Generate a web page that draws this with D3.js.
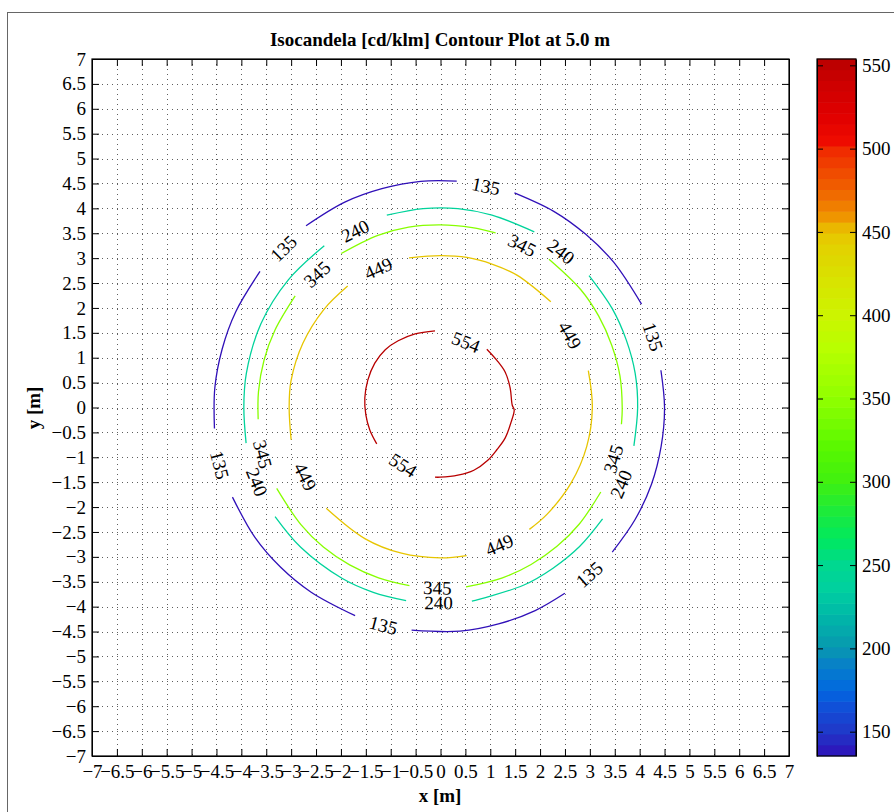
<!DOCTYPE html>
<html><head><meta charset="utf-8">
<script src="https://cdn.jsdelivr.net/npm/d3@7"></script>
<style>
body{margin:0;background:#fff}
svg{display:block}
text{font-family:"Liberation Serif","Times New Roman",serif;fill:#000}
</style>
</head><body><svg id="c" width="894" height="812"></svg>
<script>
// ---------- data ----------
const axisTicks = [-7,-6.5,-6,-5.5,-5,-4.5,-4,-3.5,-3,-2.5,-2,-1.5,-1,-0.5,0,0.5,1,1.5,2,2.5,3,3.5,4,4.5,5,5.5,6,6.5,7];
const cbarTicks = [150,200,250,300,350,400,450,500,550];
const cbarRange = [135.4, 553.8];
const levels = [135, 240, 345, 449, 554];

// colormap stops (value -> colour)
const cmapValues = [135.4,150,165,175,190,200,220,235,250,265,280,300,320,350,380,400,420,440,450,460,470,480,490,500,505,520,540,553.8];
const cmapColors = ["#3010b8","#2038c8","#1050d8","#0068e0","#0880c8","#0898b0","#00b8a8","#00d0a0","#00d890","#00e860","#18ea40","#40f010","#58f800","#90ff00","#b8ff00","#ccf400","#d8e400","#e2d200","#e8c400","#f09000","#f07000","#f05800","#f04000","#f02800","#ee0a00","#e00000","#cc0000","#b80000"];

// contour segments: points as [angle deg (from +x, ccw), radius m]
const seg135 = [
  [[126.5,4.54],[115,4.55],[105,4.55],[95,4.56],[85.9,4.56]],
  [[71.0,4.56],[60,4.55],[50,4.54],[40,4.54],[27.2,4.54]],
  [[9.6,4.49],[0,4.50],[-10,4.50],[-20,4.51],[-30,4.51],[-40.1,4.51]],
  [[-56.2,4.49],[-65,4.50],[-75,4.50],[-85,4.51],[-97.4,4.51]],
  [[-112.3,4.52],[-125,4.53],[-135,4.54],[-145,4.55],[-156.7,4.55]],
  [[185.3,4.56],[175,4.55],[165,4.54],[155,4.54],[143.0,4.54]]
];
const seg240 = [
  [[105.6,4.01],[95,4.01],[85,4.01],[75,4.0],[61.9,4.0]],
  [[125.7,4.0],[140,3.99],[155,3.98],[170,3.96],[180,3.95],[190.4,3.97]],
  [[41.6,3.99],[30,3.98],[20,3.97],[10,3.97],[0,3.96],[-11.2,3.96]],
  [[-34.5,3.95],[-45,3.95],[-55,3.94],[-65,3.94],[-80.8,3.94]],
  [[-100.1,3.94],[-110,3.95],[-120,3.96],[-135,3.97],[-146.6,3.98]]
];
const seg345 = [
  [[122.8,3.68],[110,3.68],[100,3.68],[90,3.67],[80,3.67],[72.5,3.68]],
  [[142.5,3.68],[155,3.67],[165,3.67],[175,3.67],[183.7,3.67]],
  [[53.8,3.69],[40,3.68],[30,3.67],[20,3.66],[10,3.66],[0,3.65],[-5.3,3.65]],
  [[-27.8,3.64],[-40,3.64],[-50,3.64],[-60,3.64],[-70,3.64],[-81.9,3.64]],
  [[-99.9,3.63],[-110,3.64],[-120,3.65],[-130,3.66],[-140,3.66],[-153.7,3.67]]
];
const seg449 = [
  [[101.9,3.07],[90,3.05],[80,3.06],[70,3.06],[60,3.07],[43.8,3.07]],
  [[127.4,3.07],[140,3.06],[155,3.05],[170,3.05],[180,3.04],[192.2,3.07]],
  [[14,3.06],[0,3.05],[-15,3.04],[-30,3.03],[-45,3.03],[-53.9,3.03]],
  [[-80,3.02],[-90,3.02],[-105,3.03],[-120,3.04],[-138.6,3.06]]
];
const seg554 = [
  [[94.1,1.544],[109.0,1.565],[122.4,1.587],[133.7,1.606],[146.0,1.592],[159.4,1.560],[172.9,1.532],[185.7,1.507],[197.6,1.490],[209.7,1.474]],
  [[51.5,1.495],[40.1,1.476],[28.6,1.481],[15.6,1.453],[2.0,1.441],[-1.9,1.481],[-11.5,1.449],[-25.1,1.436],[-36.9,1.414],[-48.1,1.423],[-62.0,1.427],[-75.6,1.404],[-90.4,1.400],[-94.5,1.404]]
];
const contourSegs = [seg135, seg240, seg345, seg449, seg554];

// inline labels: [angle deg, radius m]
const lab135 = [[78.4,4.54],[18.4,4.50],[-48.3,4.49],[-104.7,4.52],[-165.4,4.58],[134.6,4.49]];
const lab240 = [[115.8,3.94],[52.3,3.96],[-23,3.94],[-90.6,3.92],[-157.9,3.98]];
const lab345 = [[132.8,3.65],[63.3,3.65],[-16.6,3.62],[-91.0,3.62],[-165.3,3.69]];
const lab449 = [[114.1,3.06],[29.2,2.98],[-66.8,3.00],[-152.9,3.05]];
const lab554 = [[68.7,1.41],[-122.9,1.38]];
const contourLabels = [lab135, lab240, lab345, lab449, lab554];

// ---------- drawing ----------
const svg = d3.select("#c");
svg.append("rect").attr("width",894).attr("height",812).attr("fill","#fff");
svg.append("rect").attr("x",7.5).attr("y",12.5).attr("width",1000).attr("height",1000)
   .attr("fill","none").attr("stroke","#666").attr("stroke-width",1);

const M = {l:92, r:789, t:59, b:756};
const x = d3.scaleLinear([-7,7],[M.l,M.r]);
const y = d3.scaleLinear([-7,7],[M.b,M.t]);
const cmap = d3.scaleLinear(cmapValues, cmapColors).clamp(true);
const rad = Math.PI/180;

// grid
const inner = axisTicks.filter(v => Math.abs(v) < 7);
const grid = svg.append("g").attr("stroke","#444").attr("stroke-width",1).attr("stroke-dasharray","1 4").attr("opacity",0.85);
grid.selectAll(".gx").data(inner).join("line")
  .attr("x1",d=>Math.round(x(d))+0.5).attr("x2",d=>Math.round(x(d))+0.5).attr("y1",M.t).attr("y2",M.b);
grid.selectAll(".gy").data(inner).join("line")
  .attr("y1",d=>Math.round(y(d))+0.5).attr("y2",d=>Math.round(y(d))+0.5).attr("x1",M.l).attr("x2",M.r);

// contours
const line = d3.line()
  .x(d => x(d[1]*Math.cos(d[0]*rad)))
  .y(d => y(d[1]*Math.sin(d[0]*rad)))
  .curve(d3.curveCatmullRom);
const cg = svg.append("g").attr("fill","none").attr("stroke-width",1.3);
contourSegs.forEach((segs,i) => {
  cg.selectAll(null).data(segs).join("path")
    .attr("d", line).attr("stroke", cmap(levels[i]));
});

// contour labels
const lg = svg.append("g");
contourLabels.forEach((labs,i) => {
  lg.selectAll(null).data(labs).join("text")
    .attr("transform", d => {
      let rot = 90 - d[0];
      while (rot > 90) rot -= 180;
      while (rot <= -90) rot += 180;
      return `translate(${x(d[1]*Math.cos(d[0]*rad))},${y(d[1]*Math.sin(d[0]*rad))}) rotate(${rot})`;
    })
    .attr("text-anchor","middle").attr("dy","0.35em")
    .attr("font-size",19).text(levels[i]);
});

// axes
const fmt = d3.format("");
function styleAxis(g){ g.attr("font-size",19).attr("font-family","Liberation Serif, serif");
  g.selectAll("line").attr("stroke","#000"); g.select(".domain").attr("stroke","#000"); }
svg.append("g").attr("transform",`translate(0,${M.b})`)
  .call(d3.axisBottom(x).tickValues(axisTicks).tickFormat(fmt).tickSizeInner(-7).tickSizeOuter(0).tickPadding(9)).call(styleAxis);
svg.append("g").attr("transform",`translate(0,${M.t})`)
  .call(d3.axisTop(x).tickValues(axisTicks).tickFormat("").tickSizeInner(-7).tickSizeOuter(0)).call(styleAxis);
svg.append("g").attr("transform",`translate(${M.l},0)`)
  .call(d3.axisLeft(y).tickValues(axisTicks).tickFormat(fmt).tickSizeInner(-7).tickSizeOuter(0).tickPadding(6)).call(styleAxis);
svg.append("g").attr("transform",`translate(${M.r},0)`)
  .call(d3.axisRight(y).tickValues(axisTicks).tickFormat("").tickSizeInner(-7).tickSizeOuter(0)).call(styleAxis);
svg.append("rect").attr("x",M.l).attr("y",M.t).attr("width",M.r-M.l).attr("height",M.b-M.t)
  .attr("fill","none").attr("stroke","#000").attr("stroke-width",1.2);

// titles
svg.append("text").attr("x",440).attr("y",46).attr("text-anchor","middle")
  .attr("font-size",19).attr("font-weight","bold").text("Isocandela [cd/klm] Contour Plot at 5.0 m");
svg.append("text").attr("x",440).attr("y",802).attr("text-anchor","middle")
  .attr("font-size",19).attr("font-weight","bold").text("x [m]");
svg.append("text").attr("transform","translate(40,408) rotate(-90)").attr("text-anchor","middle")
  .attr("font-size",19).attr("font-weight","bold").text("y [m]");

// colorbar
const CB = {l:817, r:856, t:59, b:756};
const cy = d3.scaleLinear(cbarRange,[CB.b,CB.t]);
const nb = 64;
const bandVals = d3.range(nb).map(i => cbarRange[0] + (i+0.5)*(cbarRange[1]-cbarRange[0])/nb);
const bh = (CB.b-CB.t)/nb;
svg.append("g").selectAll("rect").data(bandVals).join("rect")
  .attr("x",CB.l).attr("width",CB.r-CB.l)
  .attr("y",d=>cy(d)-bh/2-0.3).attr("height",bh+0.6)
  .attr("fill",d=>cmap(d));
svg.append("g").attr("transform",`translate(${CB.r},0)`)
  .call(d3.axisRight(cy).tickValues(cbarTicks).tickFormat(fmt).tickSizeInner(-6).tickSizeOuter(0).tickPadding(6)).call(styleAxis);
svg.append("g").attr("transform",`translate(${CB.l},0)`)
  .call(d3.axisLeft(cy).tickValues(cbarTicks).tickFormat("").tickSizeInner(-6).tickSizeOuter(0)).call(styleAxis);
svg.append("rect").attr("x",CB.l).attr("y",CB.t).attr("width",CB.r-CB.l).attr("height",CB.b-CB.t)
  .attr("fill","none").attr("stroke","#000").attr("stroke-width",1.2);
</script>
</body></html>
